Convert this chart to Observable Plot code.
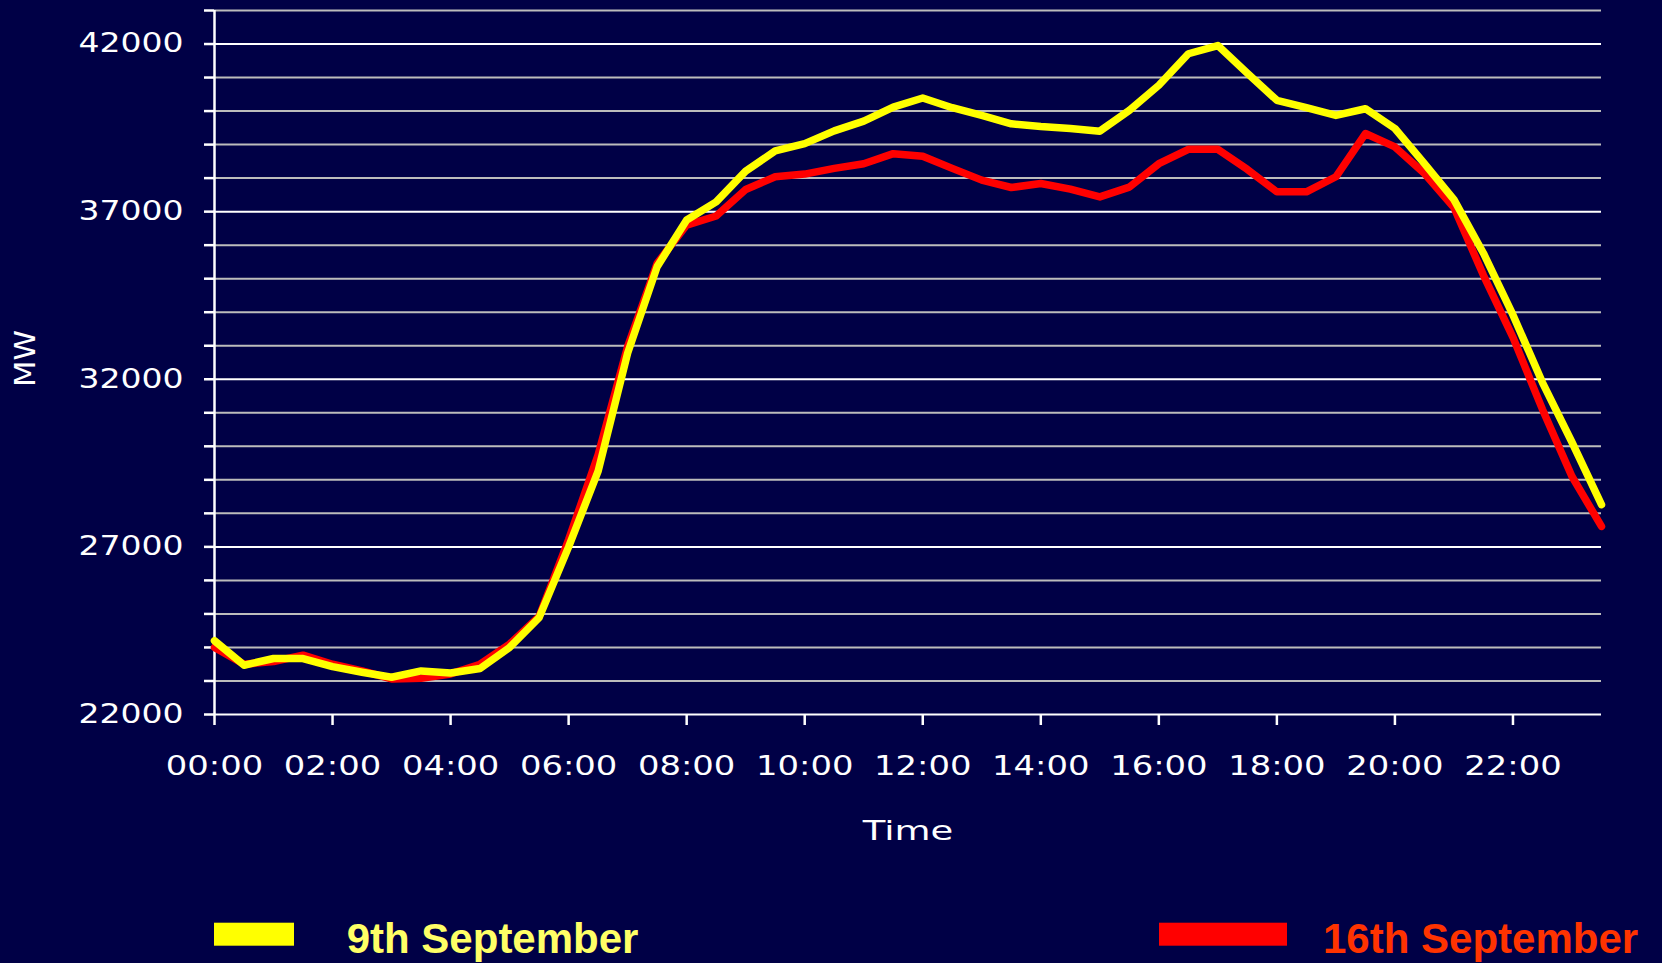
<!DOCTYPE html>
<html><head><meta charset="utf-8">
<script src="https://cdn.jsdelivr.net/npm/d3@7"></script>
<script src="https://cdn.jsdelivr.net/npm/@observablehq/plot@0.6"></script>
<style>
html,body{margin:0;padding:0;background:#000046;}
#chart{width:1662px;height:963px;overflow:hidden;}
#chart svg{display:block;}
</style></head><body><div id="chart"></div>
<script>
// Half-hourly times (hours)
const times = [0,0.5,1,1.5,2,2.5,3,3.5,4,4.5,5,5.5,6,6.5,7,7.5,8,8.5,9,9.5,10,10.5,11,11.5,
               12,12.5,13,13.5,14,14.5,15,15.5,16,16.5,17,17.5,18,18.5,19,19.5,20,20.5,21,21.5,22,22.5,23,23.5];
// Demand (MW), 9th September
const sep9 = [24200,23470,23670,23670,23430,23260,23110,23300,23240,23370,24000,24890,
              27000,29260,32780,35360,36750,37290,38210,38810,39030,39410,39700,40120,
              40390,40100,39870,39620,39540,39480,39400,40020,40770,41710,41955,41130,
              40320,40100,39870,40070,39480,38430,37360,35760,33920,31900,30120,28260];
// Demand (MW), 16th September
const sep16 = [24000,23500,23580,23770,23500,23300,23060,23080,23210,23500,24100,24920,
               27220,29750,32980,35460,36600,36870,37660,38040,38120,38290,38430,38730,
               38650,38290,37940,37720,37840,37670,37440,37730,38430,38860,38860,38260,
               37590,37590,38040,39330,38930,38140,37120,35100,33250,31100,29100,27610];
const seriesNames = ["9th September", "16th September"];
const lineColors = ["#FFFF00", "#FF0000"];
const labelColors = ["#FFFF66", "#FF3300"];
const xTicks = [0,2,4,6,8,10,12,14,16,18,20,22];
const xTickLabels = ["00:00","02:00","04:00","06:00","08:00","10:00","12:00","14:00","16:00","18:00","20:00","22:00"];
const yTicks = [22000,23000,24000,25000,26000,27000,28000,29000,30000,31000,32000,
                33000,34000,35000,36000,37000,38000,39000,40000,41000,42000,43000];
const yLabelTicks = [22000,27000,32000,37000,42000];
const xTitle = "Time";
const yTitle = "MW";

const rows = times.map((t, i) => ({t, a: sep9[i], b: sep16[i]}));
const majorGrid = yTicks.filter(v => yLabelTicks.includes(v));
const minorGrid = yTicks.filter(v => !yLabelTicks.includes(v));

const plot = Plot.plot({
  width: 1662, height: 900,
  marginLeft: 214, marginRight: 61, marginTop: 10, marginBottom: 186,
  style: {background: "transparent", color: "white", fontFamily: "'DejaVu Sans', sans-serif", overflow: "visible"},
  x: {domain: [0, 23.5]},
  y: {domain: [22000, 43000]},
  marks: [
    Plot.ruleY(minorGrid, {stroke: "#bcbcbc", strokeWidth: 2}),
    Plot.ruleY(majorGrid, {stroke: "#ffffff", strokeWidth: 2}),
    Plot.ruleX([0], {stroke: "#ffffff", strokeWidth: 2.5}),
    Plot.axisY(yTicks, {tickSize: 10, tickPadding: 21, strokeWidth: 2.5, fontSize: 26,
      tickFormat: v => yLabelTicks.includes(v) ? String(v) : "", label: null}),
    Plot.axisX(xTicks, {tickSize: 11, tickPadding: 31, strokeWidth: 2.5, fontSize: 26,
      tickFormat: v => xTickLabels[xTicks.indexOf(v)], label: null}),
    Plot.line(rows, {x: "t", y: "b", stroke: lineColors[1], strokeWidth: 7.5, strokeLinejoin: "round", strokeLinecap: "round"}),
    Plot.line(rows, {x: "t", y: "a", stroke: lineColors[0], strokeWidth: 7.5, strokeLinejoin: "round", strokeLinecap: "round"}),
    Plot.text([xTitle], {text: d => d, frameAnchor: "bottom", textAnchor: "middle", lineAnchor: "bottom", dy: 125, fontSize: 27, fill: "white"}),
    Plot.text([yTitle], {text: d => d, frameAnchor: "left", textAnchor: "middle", rotate: -90, dx: -188, dy: -4, fontSize: 28, fill: "white"})
  ]
});

function stretchEl(t, sx) {
  const tr = t.getAttribute("transform") || "";
  const x = t.getAttribute("x");
  let extra = "";
  if (x != null) { extra = ` translate(${x},0)`; t.removeAttribute("x"); }
  t.setAttribute("transform", `${tr}${extra} scale(${sx},1)`);
}
function stretch(selector, sx) {
  plot.querySelectorAll(selector).forEach(t => stretchEl(t, sx));
}
stretch('g[aria-label="y-axis tick label"] text', 1.27);
stretch('g[aria-label="x-axis tick label"] text', 1.3);
plot.querySelectorAll("text").forEach(t => {
  if (t.textContent === xTitle) stretchEl(t, 1.37);
  else if (t.textContent === yTitle) stretchEl(t, 1.1);
});

const chart = document.getElementById("chart");
chart.appendChild(plot);

// Legend below the plot
const legendRectX = [214, 1159];
const legendRectW = [80, 128];
const legendTextX = [346.7, 1323];
const legend = d3.create("svg").attr("width", 1662).attr("height", 63);
seriesNames.forEach((name, i) => {
  legend.append("rect").attr("x", legendRectX[i]).attr("y", 22.7).attr("width", legendRectW[i]).attr("height", 23)
    .attr("fill", lineColors[i]);
  legend.append("text").attr("x", legendTextX[i]).attr("y", 53.3)
    .attr("font-family", "'Liberation Sans', Arial, sans-serif").attr("font-weight", "bold").attr("font-size", 42)
    .attr("fill", labelColors[i]).text(name);
});
chart.appendChild(legend.node());
</script>
</body></html>
